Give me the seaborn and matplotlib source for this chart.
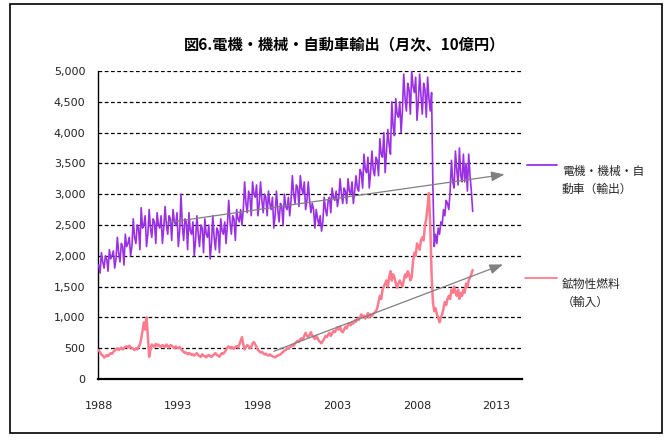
import numpy as np
import pandas as pd
import matplotlib
matplotlib.use("Agg")
import matplotlib.pyplot as plt
from matplotlib.lines import Line2D
from matplotlib.patches import Rectangle
from matplotlib.ticker import FuncFormatter
import seaborn as sns

# Monthly values (10億円) starting January 1988
machinery_exports = [
    1850, 1720, 2050, 1900, 1800, 2000, 1950, 1750, 2100, 1950, 2000, 2080,  # 1988
    1800, 1950, 2300, 2050, 1900, 2200, 2150, 1850, 2350, 2150, 2200, 2300,  # 1989
    2000, 2150, 2600, 2300, 2200, 2500, 2450, 2100, 2780, 2450, 2500, 2650,  # 1990
    2150, 2350, 2750, 2450, 2300, 2600, 2550, 2200, 2700, 2500, 2450, 2650,  # 1991
    2200, 2450, 2800, 2500, 2350, 2650, 2600, 2250, 2750, 2550, 2500, 2700,  # 1992
    2150, 2400, 3000, 2500, 2250, 2600, 2550, 2100, 2700, 2400, 2350, 2550,  # 1993
    2000, 2250, 2650, 2350, 2150, 2500, 2450, 2050, 2600, 2350, 2300, 2500,  # 1994
    1950, 2200, 2650, 2300, 2100, 2450, 2400, 2050, 2600, 2400, 2350, 2550,  # 1995
    2200, 2500, 2900, 2550, 2350, 2650, 2600, 2250, 2750, 2600, 2550, 2750,  # 1996
    2500, 2750, 3200, 2850, 2700, 3050, 2950, 2650, 3200, 3000, 2950, 3150,  # 1997
    2650, 2850, 3200, 2900, 2700, 3000, 2950, 2650, 3050, 2850, 2750, 2950,  # 1998
    2450, 2650, 3050, 2750, 2550, 2850, 2800, 2500, 3000, 2800, 2750, 2950,  # 1999
    2650, 2900, 3300, 3000, 2850, 3150, 3100, 2800, 3300, 3100, 3000, 3200,  # 2000
    2750, 2900, 3200, 2900, 2700, 2850, 2750, 2450, 2750, 2600, 2500, 2650,  # 2001
    2400, 2550, 2950, 2750, 2650, 2900, 2950, 2700, 3100, 2950, 2900, 3050,  # 2002
    2800, 2950, 3250, 3000, 2850, 3100, 3050, 2850, 3250, 3050, 3000, 3200,  # 2003
    2850, 3050, 3300, 3100, 3050, 3400, 3350, 3100, 3650, 3400, 3350, 3600,  # 2004
    3100, 3350, 3700, 3400, 3300, 3600, 3550, 3300, 3900, 3650, 3600, 4000,  # 2005
    3350, 3700, 4050, 3800, 3650, 4500, 4100, 3950, 4550, 4300, 4250, 4500,  # 2006
    4000, 4350, 4950, 4550, 4350, 4800, 4700, 4300, 5000, 4750, 4650, 4900,  # 2007
    4200, 4500, 4950, 4600, 4300, 4800, 4700, 4250, 4900, 4550, 4350, 4650,  # 2008
    3100, 2150, 2350, 2200, 2450, 2350, 2550, 2500, 2750, 2650, 2900, 2850,  # 2009
    2750, 3050, 3550, 3200, 3100, 3700, 3400, 3150, 3750, 3300, 3200, 3650,  # 2010
    3200, 3500, 3050, 3650, 3300, 3050, 2720,                                # 2011
]

fuel_imports = [
    470, 430, 400, 380, 350, 360, 390, 370, 400, 420, 410, 440,            # 1988
    460, 480, 500, 470, 490, 510, 480, 500, 520, 530, 510, 540,            # 1989
    520, 500, 490, 470, 500, 480, 520, 560, 650, 780, 920, 800,            # 1990
    1000, 700, 360, 480, 560, 540, 520, 570, 540, 560, 530, 520,           # 1991
    550, 540, 520, 560, 530, 510, 550, 540, 520, 500, 530, 510,            # 1992
    500, 520, 490, 460, 440, 420, 430, 400, 420, 410, 390, 400,            # 1993
    380, 400, 420, 390, 370, 360, 400, 380, 370, 350, 380, 390,            # 1994
    370, 360, 380, 400, 420, 390, 380, 360, 400, 420, 410, 440,            # 1995
    470, 510, 530, 500, 520, 510, 490, 520, 530, 510, 560, 620,            # 1996
    680, 560, 480, 520, 550, 530, 500, 520, 580, 600, 560, 520,            # 1997
    470, 450, 430, 440, 420, 400, 410, 390, 380, 400, 380, 370,            # 1998
    360, 350, 370, 380, 390, 400, 420, 440, 460, 470, 500, 490,            # 1999
    510, 530, 560, 540, 580, 600, 620, 600, 650, 660, 640, 700,            # 2000
    750, 700, 680, 720, 760, 700, 680, 650, 700, 660, 620, 600,            # 2001
    580, 620, 650, 700, 680, 720, 750, 700, 740, 780, 760, 800,            # 2002
    840, 800, 850, 780, 760, 800, 850, 820, 880, 900, 870, 920,            # 2003
    900, 950, 930, 980, 960, 1000, 1050, 1000, 1030, 980, 1020, 1070,      # 2004
    1000, 1050, 1020, 1060, 1080, 1100, 1150, 1250, 1350, 1300, 1450, 1500,  # 2005
    1550, 1600, 1500, 1650, 1750, 1600, 1700, 1650, 1550, 1480, 1550, 1600,  # 2006
    1550, 1500, 1600, 1700, 1650, 1750, 1700, 1600, 1650, 1900, 2050, 2000,  # 2007
    2200, 2150, 2100, 2250, 2300, 2250, 2500, 2600, 2800, 3020, 2500, 1700,  # 2008
    1250, 1100, 1150, 1050, 1000, 920, 1000, 1050, 1150, 1250, 1200, 1300,   # 2009
    1350, 1300, 1450, 1400, 1500, 1400, 1350, 1450, 1300, 1400, 1350, 1450,  # 2010
    1400, 1550, 1500, 1600, 1650, 1700, 1770,                                # 2011
]

# Trend arrows: (start year, start value) -> (end year, end value)
machinery_trend = [(1992.3, 2540), (2013.5, 3320)]
fuel_trend = [(1999.0, 450), (2013.4, 1860)]

year_ticks = [1988, 1993, 1998, 2003, 2008, 2013]
value_ticks = list(range(0, 5001, 500))

title = "図6.電機・機械・自動車輸出（月次、10億円）"
label_machinery = "電機・機械・自\n動車（輸出）"
label_fuel = "鉱物性燃料\n（輸入）"

purple = "#9A2FE6"
pink = "#FF7B8E"
arrow_grey = "#808080"

df = pd.DataFrame({
    "year": 1988 + np.arange(len(machinery_exports)) / 12,
    "machinery": machinery_exports,
    "fuel": fuel_imports,
})

sns.set_style("white")
plt.rcParams["font.family"] = ["Noto Sans CJK JP", "DejaVu Sans"]

fig = plt.figure(figsize=(6.72, 4.44), dpi=100)
ax = fig.add_axes([0.1458, 0.1464, 0.631, 0.6937])

for yv in value_ticks[1:]:
    ax.axhline(yv, color="black", lw=0.9, ls=(0, (3, 2)), zorder=1)

sns.lineplot(data=df, x="year", y="machinery", color=purple, lw=1.2, ax=ax, zorder=3)
sns.lineplot(data=df, x="year", y="fuel", color=pink, lw=1.8, ax=ax, zorder=3)

for (x0, y0), (x1, y1) in (machinery_trend, fuel_trend):
    ax.annotate("", xy=(x1, y1), xytext=(x0, y0),
                arrowprops=dict(arrowstyle="-|>,head_length=0.8,head_width=0.3",
                                color=arrow_grey, lw=0.9, shrinkA=0, shrinkB=0),
                zorder=4, annotation_clip=False)

ax.set_xlim(1987.95, 2014.6)
ax.set_ylim(0, 5000)
ax.set_xticks(year_ticks)
ax.set_yticks(value_ticks)
ax.yaxis.set_major_formatter(FuncFormatter(lambda v, p: f"{int(v):,}"))
ax.set_xlabel("")
ax.set_ylabel("")
ax.tick_params(axis="y", length=3, width=0.8, pad=6, labelsize=8, color="black")
ax.tick_params(axis="x", length=0, pad=16, labelsize=8)
for lab in ax.get_xticklabels() + ax.get_yticklabels():
    lab.set_family(["DejaVu Sans"])
    lab.set_color("#222222")

for side in ("top", "right"):
    ax.spines[side].set_visible(False)
ax.spines["left"].set_color("black")
ax.spines["left"].set_linewidth(1.0)
ax.spines["bottom"].set_color("black")
ax.spines["bottom"].set_linewidth(1.6)

fig.text(0.513, 0.901, title, ha="center", va="center", fontsize=11,
         fontweight="bold", color="black")

# Series key on the right
fig.add_artist(Line2D([0.784, 0.829], [0.628, 0.628], color=purple, lw=1.3,
                      transform=fig.transFigure))
fig.text(0.836, 0.628, label_machinery, ha="left", va="top", fontsize=8.5,
         linespacing=1.45, transform=fig.transFigure)
fig.add_artist(Line2D([0.781, 0.829], [0.374, 0.374], color=pink, lw=1.3,
                      transform=fig.transFigure))
fig.text(0.836, 0.374, label_fuel, ha="left", va="top", fontsize=8.5,
         linespacing=1.45, transform=fig.transFigure)

# Outer frame
fig.add_artist(Rectangle((0.015, 0.025), 0.97, 0.965, fill=False,
                         edgecolor="black", lw=1.2, transform=fig.transFigure))

fig.savefig("out.png", dpi=100)
